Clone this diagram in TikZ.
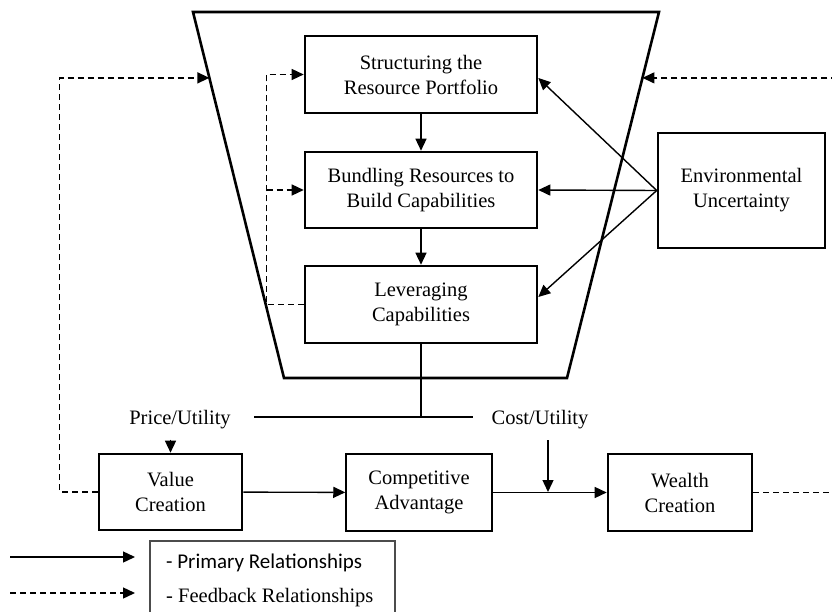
\documentclass[tikz,border=0pt]{standalone}
\usepackage{fontspec}
\setmainfont{Liberation Serif}
\newfontfamily\legsans{Carlito}
\usetikzlibrary{arrows.meta,calc}
\tikzset{
  txt/.style={font=\fontsize{20.5}{25}\selectfont, align=center},
  thickbox/.style={draw, line width=2.6pt, txt, inner sep=0pt},
  thinbox/.style={draw, line width=1.5pt, txt, inner sep=0pt},
  pa/.style={line width=1.4pt, -{Triangle[length=12pt,width=11pt]}},
  pl/.style={line width=1.4pt},
  fb/.style={line width=1.4pt, dash pattern=on 6pt off 4pt, -{Triangle[length=12pt,width=11pt]}},
}
\begin{document}
\begin{tikzpicture}[x=1pt,y=-1pt]
\useasboundingbox (0,0) rectangle (832,612);
% trapezoid
\coordinate (tl) at (193,12);
\coordinate (tr) at (659,12);
\coordinate (br) at (567,378);
\coordinate (bl) at (284,378);
\draw[line width=2.6pt] (tl) -- (tr) -- (br) -- (bl) -- cycle;
\coordinate (tlA) at ($(tl)!0.18!(bl)$);
\coordinate (trA) at ($(tr)!0.18!(br)$);
% inner boxes
\node[thickbox, minimum width=232pt, minimum height=77pt] (S) at (421,74.5) {Structuring the\\Resource Portfolio};
\node[thickbox, minimum width=232pt, minimum height=76pt] (B) at (421,190) {Bundling Resources to\\Build Capabilities};
\node[thickbox, minimum width=232pt, minimum height=77pt] (L) at (421,304.5) {Leveraging\\Capabilities};
\node[thickbox, minimum width=167pt, minimum height=115pt] (E) at (741.5,190.5) {Environmental\\Uncertainty};
% bottom boxes
\node[thickbox, minimum width=143pt, minimum height=76pt] (V) at (170.5,492) {Value\\Creation};
\node[thinbox, minimum width=146pt, minimum height=77pt] (C) at (419,492.5) {Competitive\\Advantage};
\node[thickbox, minimum width=144pt, minimum height=77pt] (W) at (680,492.5) {Wealth\\Creation};
% labels
\node[txt] (PU) at (180,420) {Price/Utility};
\node[txt] (CU) at (540,420) {Cost/Utility};
% primary arrows
\draw[pa] (S) -- (B);
\draw[pa] (B) -- (L);
\draw[pa] (E.west) -- ($(S.east)+(0,3.5)$);
\draw[pa] (E.west) -- (B.east);
\draw[pa] (E.west) -- ($(L.east)+(0,-7.5)$);
\draw[pa] (V) -- (C);
\draw[pa] (C) -- (W);
\coordinate (j) at (421,417);
\coordinate (hl) at (254,417);
\coordinate (hr) at (473,417);
\draw[pl] (L.south) -- (j);
\draw[pl] (hl) -- (hr);
\coordinate (pus) at ($(V.north)+(0,-13)$);
\draw[pa] (pus) -- (V.north);
\coordinate (cus) at (548,440);
\coordinate (cue) at (548,492);
\draw[pa] (cus) -- (cue);
% feedback inner
\coordinate (fl) at ($(L.west)+(-37,0)$);
\draw[fb] (L.west) -- (fl) |- (S.west);
\draw[fb] (fl |- B.west) -- (B.west);
% feedback outer
\coordinate (ol) at ($(V.west)+(-38,0)$);
\draw[fb] (V.west) -- (ol) |- (tlA);
\coordinate (orr) at (838,492.5);
\draw[fb] (W.east) -- (orr) |- (trA);
% legend
\coordinate (la1) at (10,557);
\coordinate (la2) at (135,557);
\coordinate (lb1) at (10,593);
\coordinate (lb2) at (135,593);
\draw[pa] (la1) -- (la2);
\draw[fb] (lb1) -- (lb2);
\draw[line width=1.4pt, draw=black!70] (150,620) -- (150,541) -- (395,541) -- (395,620);
\node[anchor=west, inner sep=0pt, font=\legsans\fontsize{21}{25}\selectfont] (LP) at (166,563) {- Primary Relationships};
\node[anchor=west, inner sep=0pt, font=\fontsize{20.5}{25}\selectfont] (LF) at (166,598) {- Feedback Relationships};
\end{tikzpicture}
\end{document}
